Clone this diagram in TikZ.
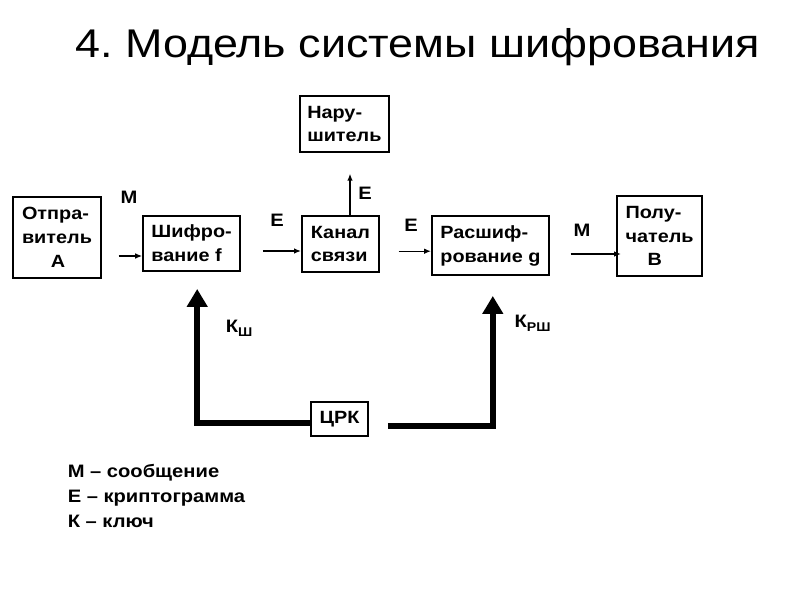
\documentclass[tikz,border=0pt]{standalone}
\usepackage{fontspec}
\setmainfont{Liberation Sans}[FakeStretch=1.12]
\frenchspacing
\usetikzlibrary{arrows.meta}

\tikzset{
  block/.style={draw, line width=1.2pt, align=left, inner xsep=0.17cm,
    font=\fontsize{12.6}{17}\selectfont\bfseries},
  flow/.style={-{Latex[length=5pt,width=4pt]}, line width=1pt},
  keyline/.style={-{Triangle[length=0.45cm,width=0.5cm]}, line width=4.5pt},
  tag/.style={font=\fontsize{12.8}{15}\selectfont\bfseries}
}

\begin{document}
\begin{tikzpicture}
\useasboundingbox (0,0) rectangle (20,-15);

% Title
\node[font=\fontsize{28.5}{32}\selectfont] (title) at (10.44,-1.18) {4. Модель системы шифрования};

% Blocks
\node[block, minimum width=2.2cm, minimum height=2.025cm] (sender) at (1.425,-5.94) {Отпра-\\витель\\\hspace*{0.72cm}А};
\node[block, minimum width=2.425cm, minimum height=1.375cm] (encr) at (4.79,-6.09) {Шифро-\\вание f};
\node[block, minimum width=1.925cm, minimum height=1.4cm] (chan) at (8.51,-6.1) {Канал\\связи};
\node[block, minimum width=2.225cm, minimum height=1.4cm] (intr) at (8.61,-3.1) {Нару-\\шитель};
\node[block, minimum width=2.925cm, minimum height=1.475cm] (decr) at (12.26,-6.14) {Расшиф-\\рование g};
\node[block, minimum width=2.125cm, minimum height=2.0cm] (recv) at (16.49,-5.9) {Полу-\\чатель\\\hspace*{0.55cm}В};
\node[block, align=center, minimum width=1.425cm, minimum height=0.85cm] (crk) at (8.49,-10.475) {ЦРК};

% Data flow
\draw[flow, shorten <=0.42cm] ([yshift=-0.31cm]sender.east |- encr.west) -- ([yshift=-0.31cm]encr.west);
\draw[flow, shorten <=0.55cm] ([yshift=-0.175cm]encr.east |- chan.west) -- ([yshift=-0.175cm]chan.west);
\draw[flow, shorten <=0.475cm] ([yshift=-0.14cm]chan.east |- decr.west) -- ([yshift=-0.14cm]decr.west);
\draw[flow, shorten <=0.525cm, shorten >=-0.12cm] ([yshift=-0.45cm]decr.east |- recv.west) -- ([yshift=-0.45cm]recv.west);
\draw[flow, shorten >=0.52cm] ([xshift=0.24cm]chan.north) -- ([xshift=0.24cm]chan.north |- intr.south);

% Keys
\draw[keyline, shorten >=0.425cm] ([yshift=-0.1cm]crk.west) -| ([xshift=0.14cm]encr.south);
\draw[keyline, shorten <=0.475cm, shorten >=0.5cm] ([yshift=-0.175cm]crk.east) -| ([xshift=0.06cm]decr.south);

% Labels
\node[tag] (m1) at (3.225,-4.925) {М};
\node[tag] (e1) at (6.925,-5.5) {Е};
\node[tag] (e2) at (9.125,-4.825) {Е};
\node[tag] (e3) at (10.275,-5.625) {Е};
\node[tag] (m2) at (14.55,-5.75) {М};
\node[tag, anchor=west] (kenc) at (5.52,-8.2) {К\raisebox{-0.45ex}{\fontsize{9}{9}\selectfont Ш}};
\node[tag, anchor=west] (kdec) at (12.74,-8.075) {К\raisebox{-0.45ex}{\fontsize{9}{9}\selectfont РШ}};

% Legend
\node[tag, align=left, anchor=west, font=\fontsize{12.8}{17.8}\selectfont\bfseries] (legend) at (1.57,-12.4) {М -- сообщение\\Е -- криптограмма\\К -- ключ};
\end{tikzpicture}
\end{document}
